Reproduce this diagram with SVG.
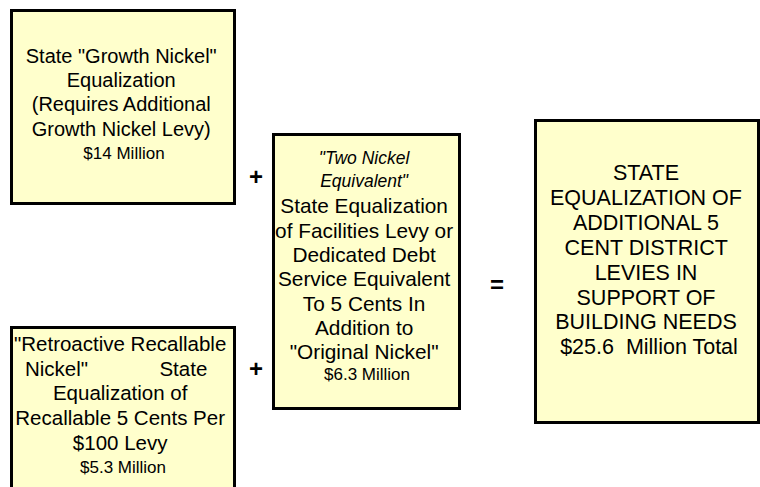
<svg xmlns="http://www.w3.org/2000/svg" width="760" height="487" viewBox="0 0 760 487">
<style>
.box{fill:#FFFFCC;stroke:#000;stroke-width:3}
.t{font-family:"Liberation Sans",Arial,sans-serif;font-size:20.5px;fill:#000;text-anchor:middle}
.s{font-size:17px}
.i{font-style:italic;font-size:17.5px}
.op{font-family:"Liberation Sans",Arial,sans-serif;font-size:24px;font-weight:bold;fill:#000;text-anchor:middle}
</style>
<rect width="760" height="487" fill="#fff"/>
<g id="node-growth">
<rect class="box" x="11.5" y="10.5" width="223" height="193"/>
<text class="t" style="font-size:20px">
<tspan x="124" y="63">State "Growth Nickel"</tspan>
<tspan x="124" y="87">Equalization</tspan>
<tspan x="124" y="111">(Requires Additional</tspan>
<tspan x="124" y="136">Growth Nickel Levy)</tspan>
<tspan class="s" x="124" y="159">$14 Million</tspan>
</text>
</g>
<g id="node-retro">
<rect class="box" x="11.5" y="327.5" width="223" height="170"/>
<text class="t">
<tspan x="123" y="351">"Retroactive Recallable</tspan>
<tspan x="25" y="376" style="text-anchor:start">Nickel"</tspan>
<tspan x="213" y="376" style="text-anchor:end">State</tspan>
<tspan x="123" y="400">Equalization of</tspan>
<tspan x="123" y="425">Recallable 5 Cents Per</tspan>
<tspan x="123" y="450">$100 Levy</tspan>
<tspan class="s" x="123" y="473">$5.3 Million</tspan>
</text>
</g>
<g id="node-twonickel">
<rect class="box" x="273.5" y="134.5" width="186" height="274"/>
<text class="t" style="font-size:20.8px">
<tspan class="i" x="367" y="164">"Two Nickel</tspan>
<tspan class="i" x="367" y="187">Equivalent"</tspan>
<tspan x="367" y="213">State Equalization</tspan>
<tspan x="367" y="238">of Facilities Levy or</tspan>
<tspan x="367" y="262">Dedicated Debt</tspan>
<tspan x="367" y="286">Service Equivalent</tspan>
<tspan x="367" y="311">To 5 Cents In</tspan>
<tspan x="367" y="335">Addition to</tspan>
<tspan x="367" y="359">"Original Nickel"</tspan>
<tspan class="s" x="367" y="380">$6.3 Million</tspan>
</text>
</g>
<g id="node-total">
<rect class="box" x="535.5" y="120.5" width="223" height="302"/>
<text class="t" style="font-size:21.5px">
<tspan x="649" y="180">STATE</tspan>
<tspan x="649" y="205">EQUALIZATION OF</tspan>
<tspan x="649" y="230">ADDITIONAL 5</tspan>
<tspan x="649" y="255">CENT DISTRICT</tspan>
<tspan x="649" y="280">LEVIES IN</tspan>
<tspan x="649" y="305">SUPPORT OF</tspan>
<tspan x="649" y="329">BUILDING NEEDS</tspan>
<tspan x="649" y="354">$25.6&#160; Million Total</tspan>
</text>
</g>
<g id="connectors">
<text class="op" x="256" y="185">+</text>
<text class="op" x="256" y="377">+</text>
<text class="op" x="497" y="293">=</text>
</g>
</svg>
